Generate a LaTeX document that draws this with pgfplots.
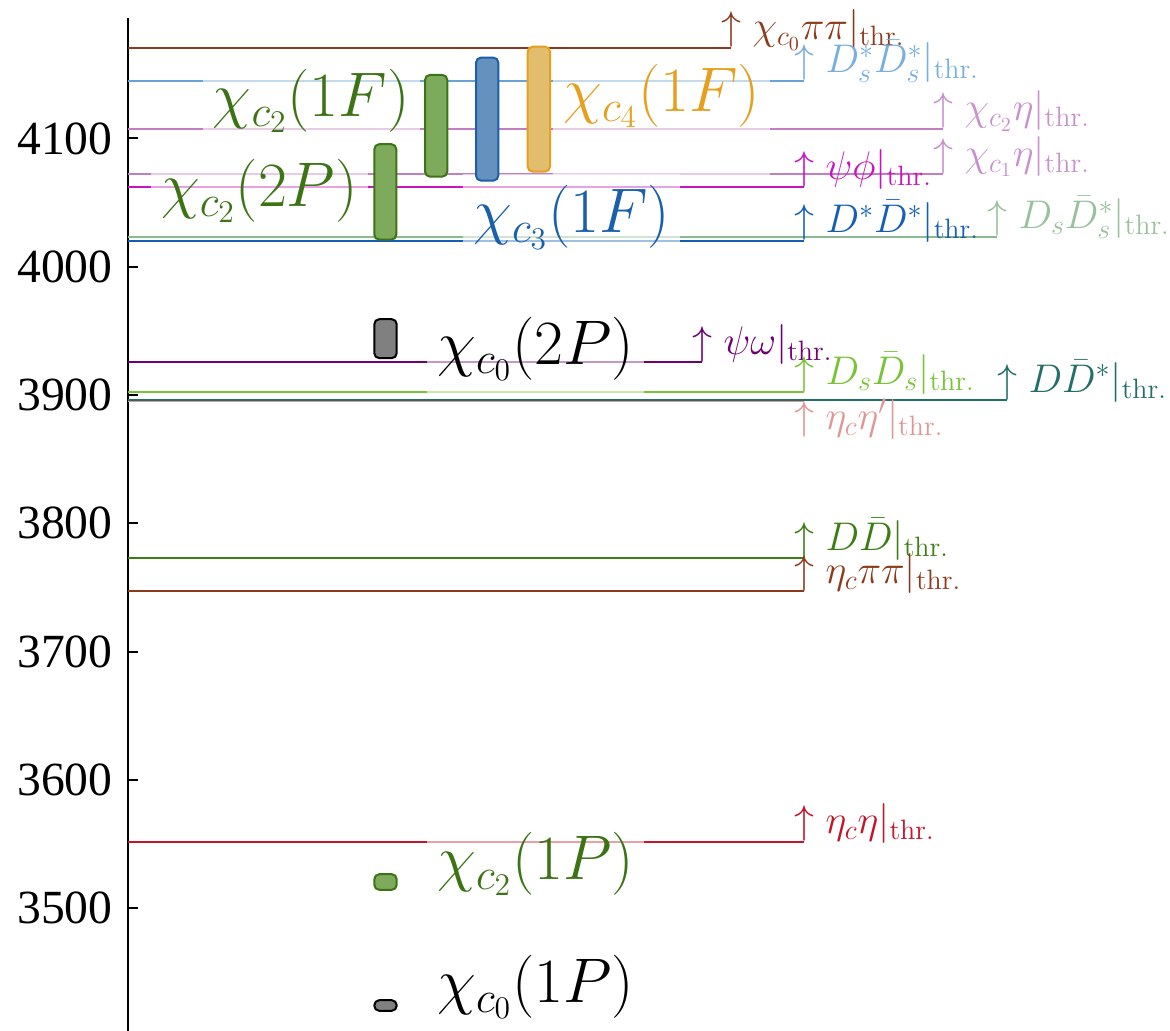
\RequirePackage{fix-cm}
\documentclass[border=0pt]{standalone}
\usepackage[no-math]{fontspec}
\setmainfont{Liberation Serif}
\usepackage{pgfplots}
\pgfplotsset{compat=1.18}

\definecolor{cBrown}{RGB}{140,58,28}
\definecolor{cLBlue}{RGB}{105,162,212}
\definecolor{cOrchid}{RGB}{195,125,195}
\definecolor{cMagenta}{RGB}{200,20,190}
\definecolor{cBlue}{RGB}{20,95,180}
\definecolor{cGrayGreen}{RGB}{140,185,145}
\definecolor{cPurple}{RGB}{110,0,115}
\definecolor{cYGreen}{RGB}{120,195,55}
\definecolor{cTeal}{RGB}{35,110,105}
\definecolor{cPink}{RGB}{225,150,150}
\definecolor{cGreen}{RGB}{60,125,20}
\definecolor{cCrimson}{RGB}{195,20,40}

\definecolor{tLBlue}{RGB}{120,175,222}
\definecolor{tOrchid}{RGB}{200,145,205}
\definecolor{tGrayGreen}{RGB}{155,192,158}
\definecolor{tPink}{RGB}{222,150,150}

\definecolor{sGreen}{RGB}{60,115,20}
\definecolor{sGreenF}{RGB}{126,170,92}
\definecolor{sBlue}{RGB}{25,95,170}
\definecolor{sBlueF}{RGB}{100,145,190}
\definecolor{sOrange}{RGB}{230,160,30}
\definecolor{sOrangeF}{RGB}{226,189,110}
\definecolor{sGrayF}{RGB}{128,128,128}

\newcommand{\thr}{|_{\mathrm{thr.}}}
\newcommand{\thrfont}{\fontsize{20}{23}\selectfont}
\newcommand{\bigfont}{\fontsize{31.5}{36}\selectfont}

\tikzset{
  thrline/.style={line width=0.95pt},
  thrlab/.style={anchor=base west, inner sep=0pt, font=\thrfont},
  biglab/.style={font=\bigfont, fill=white, fill opacity=0.6, text opacity=1, inner xsep=5pt, inner ysep=6pt},
  state/.style={line width=1pt, rounded corners=2.5pt},
}

\begin{document}
\begin{tikzpicture}
\begin{axis}[
  scale only axis, width=521pt, height=506.5pt,
  xmin=128, xmax=1170, ymin=3404.4, ymax=4194,
  axis x line=none, axis y line*=left,
  axis line style={line width=1pt, black},
  ytick={3500,3600,3700,3800,3900,4000,4100},
  scaled y ticks=false,
  tick align=inside, major tick length=5pt,
  tick style={line width=1pt, black},
  /pgf/number format/assume math mode=true,
  /pgf/number format/1000 sep={},
  yticklabel style={font=\fontsize{23.8}{26}\selectfont, inner sep=0pt, xshift=-7.5pt},
  clip=false,
]
% threshold lines
\addplot[thrline, cBrown]     coordinates {(128,4170.8) (731,4170.8)};
\addplot[thrline, cLBlue]     coordinates {(128,4145.0) (804,4145.0)};
\addplot[thrline, cOrchid]    coordinates {(128,4107.6) (943,4107.6)};
\addplot[thrline, cOrchid]    coordinates {(128,4072.3) (943,4072.3)};
\addplot[thrline, cMagenta]   coordinates {(128,4061.8) (804,4061.8)};
\addplot[thrline, cGrayGreen] coordinates {(128,4023.4) (997,4023.4)};
\addplot[thrline, cBlue]      coordinates {(128,4020.3) (804,4020.3)};
\addplot[thrline, cPurple]    coordinates {(128,3925.4) (702,3925.4)};
\addplot[thrline, cYGreen]    coordinates {(128,3902.2) (804,3902.2)};
\addplot[thrline, cPink]      coordinates {(128,3894.9) (804,3894.9)};
\addplot[thrline, cTeal]      coordinates {(128,3896.2) (1007,3896.2)};
\addplot[thrline, cGreen]     coordinates {(128,3772.9) (804,3772.9)};
\addplot[thrline, cBrown]     coordinates {(128,3747.2) (804,3747.2)};
\addplot[thrline, cCrimson]   coordinates {(128,3551.9) (804,3551.9)};

% threshold labels
\node[thrlab, text=cBrown]     at (axis cs:721,4176.8) {$\uparrow\chi_{c_0}\pi\pi\thr$};
\node[thrlab, text=tLBlue]     at (axis cs:794,4151.0) {$\uparrow D_s^*\bar{D}_s^*\thr$};
\node[thrlab, text=tOrchid]    at (axis cs:933,4113.6) {$\uparrow\chi_{c_2}\eta\thr$};
\node[thrlab, text=tOrchid]    at (axis cs:933,4078.3) {$\uparrow\chi_{c_1}\eta\thr$};
\node[thrlab, text=cMagenta]   at (axis cs:794,4067.8) {$\uparrow\psi\phi\thr$};
\node[thrlab, text=tGrayGreen] at (axis cs:987,4029.4) {$\uparrow D_s\bar{D}_s^*\thr$};
\node[thrlab, text=cBlue]      at (axis cs:794,4026.3) {$\uparrow D^*\bar{D}^*\thr$};
\node[thrlab, text=cPurple]    at (axis cs:692,3931.4) {$\uparrow\psi\omega\thr$};
\node[thrlab, text=cYGreen]    at (axis cs:794,3908.2) {$\uparrow D_s\bar{D}_s\thr$};
\node[thrlab, text=cTeal]      at (axis cs:997,3902.2) {$\uparrow D\bar{D}^*\thr$};
\node[thrlab, text=tPink]      at (axis cs:794,3873.3) {$\uparrow\eta_c\eta'\thr$};
\node[thrlab, text=cGreen]     at (axis cs:794,3778.9) {$\uparrow D\bar{D}\thr$};
\node[thrlab, text=cBrown]     at (axis cs:794,3753.2) {$\uparrow\eta_c\pi\pi\thr$};
\node[thrlab, text=cCrimson]   at (axis cs:794,3557.9) {$\uparrow\eta_c\eta\thr$};

% state labels
\node[biglab, anchor=base east, text=sGreen]  at (axis cs:420,4117.0) {$\chi_{c_2}(1F)$};
\node[biglab, anchor=base east, text=sGreen]  at (axis cs:368,4046.8) {$\chi_{c_2}(2P)$};
\node[biglab, anchor=base west, text=sBlue]   at (axis cs:463,4026.3) {$\chi_{c_3}(1F)$};
\node[biglab, anchor=base west, text=sOrange, text depth=27pt] at (axis cs:553,4120.9) {$\chi_{c_4}(1F)$};
\node[biglab, anchor=base west, text=black]   at (axis cs:427,3923.8) {$\chi_{c_0}(2P)$};
\node[biglab, anchor=base west, text=sGreen]  at (axis cs:427,3522.1) {$\chi_{c_2}(1P)$};
\node[biglab, anchor=base west, text=black]   at (axis cs:427,3426.2) {$\chi_{c_0}(1P)$};

% states
\addplot[state, draw=black, fill=sGrayF]     coordinates {(374.3,3420.0) (396.7,3420.0) (396.7,3428.3) (374.3,3428.3)} -- cycle;
\addplot[state, draw=sGreen, fill=sGreenF]   coordinates {(374.3,3514.3) (396.7,3514.3) (396.7,3526.5) (374.3,3526.5)} -- cycle;
\addplot[state, draw=black, fill=sGrayF]     coordinates {(374.3,3928.7) (396.7,3928.7) (396.7,3959.1) (374.3,3959.1)} -- cycle;
\addplot[state, draw=sGreen, fill=sGreenF]   coordinates {(374.3,4021.1) (396.3,4021.1) (396.3,4095.5) (374.3,4095.5)} -- cycle;
\addplot[state, draw=sGreen, fill=sGreenF]   coordinates {(425,4070.2) (447.3,4070.2) (447.3,4149.5) (425,4149.5)} -- cycle;
\addplot[state, draw=sBlue, fill=sBlueF]     coordinates {(476,4067.1) (498.3,4067.1) (498.3,4163.0) (476,4163.0)} -- cycle;
\addplot[state, draw=sOrange, fill=sOrangeF] coordinates {(527.7,4074.1) (550,4074.1) (550,4171.5) (527.7,4171.5)} -- cycle;

\coordinate (bbl) at (axis cs:0,3404.4);
\coordinate (bbr) at (axis cs:1170,4207.9);
\end{axis}
\pgfresetboundingbox
\path[use as bounding box] (bbl) rectangle (bbr);
\end{tikzpicture}
\end{document}
